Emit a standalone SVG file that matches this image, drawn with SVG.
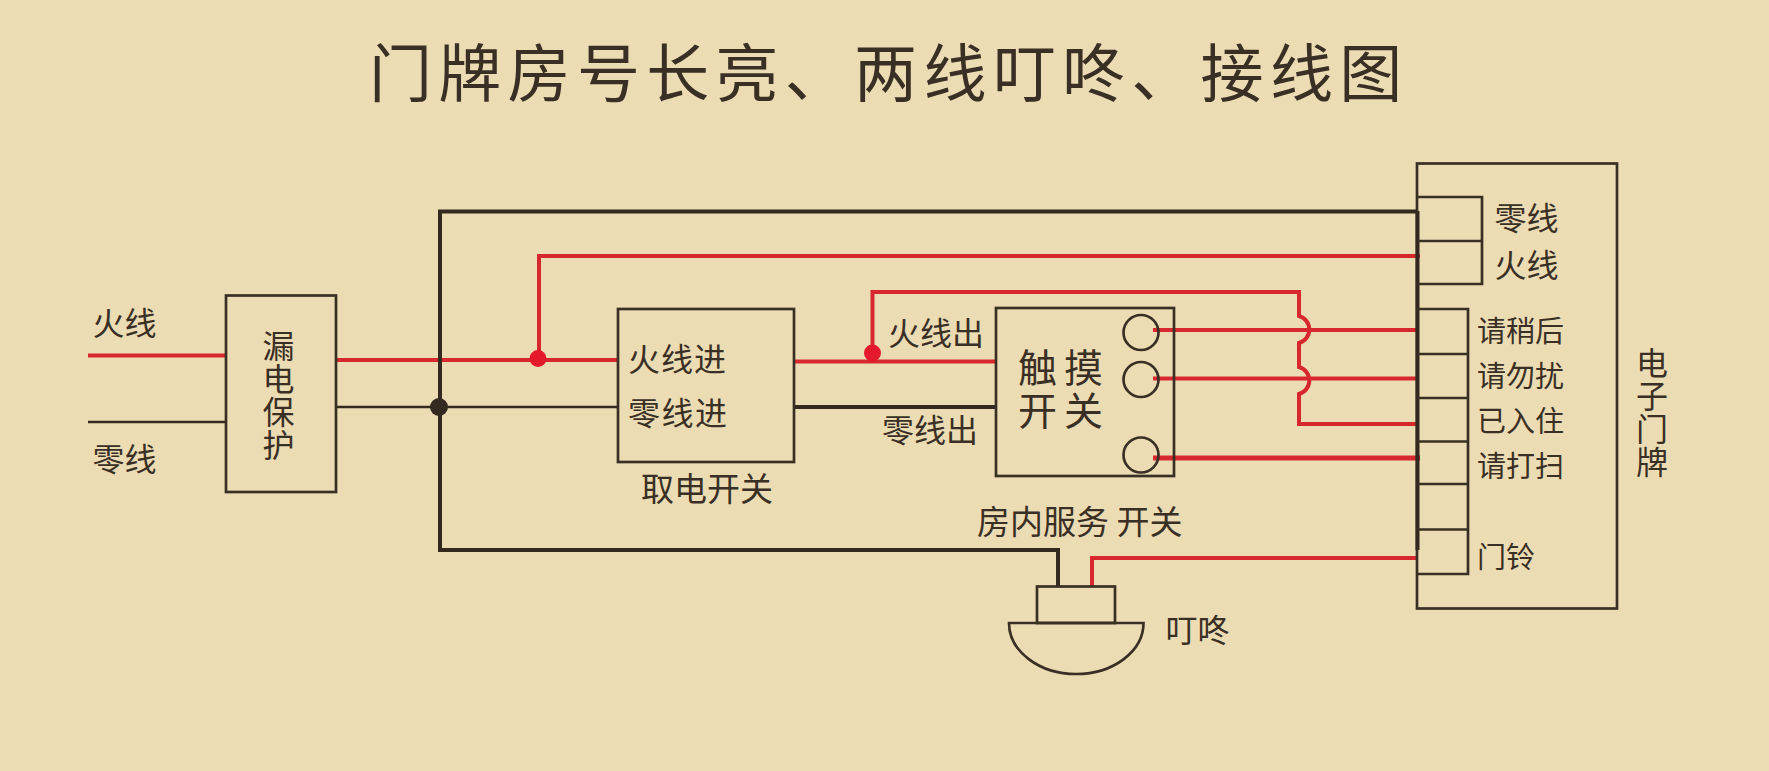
<svg xmlns="http://www.w3.org/2000/svg" width="1769" height="771" viewBox="0 0 1769 771">
<style>
text{font-family:"Noto Sans CJK SC","Noto Sans",sans-serif;fill:#3a2f24;font-size:32px}
.box{fill:none;stroke:#3a2f24;stroke-width:2.700}
.r{fill:none;stroke:#d8282f;stroke-width:4}
.k{fill:none;stroke:#33291f;stroke-width:4}
.t{fill:none;stroke:#33291f;stroke-width:2.500}
.m{text-anchor:middle}
.s{font-size:29px}
.b{font-size:39px;letter-spacing:7px}
.v{writing-mode:vertical-rl;text-orientation:upright;letter-spacing:1px}
</style>
<rect width="1769" height="771" fill="#ecdcb4"/>
<g id="title"><text x="369" y="96" style="font-size:63px;letter-spacing:6.300px">门牌房号长亮、两线叮咚、接线图</text></g>
<g id="connectors">
<path class="r" d="M88 355.500H226"/>
<path class="t" d="M88 422H226"/>
<path class="r" d="M336 360H618"/>
<path class="t" d="M336 407H618"/>
<path class="k" d="M1417 211.500H440V550H1058V587"/>
<path class="r" d="M539 360V256H1420"/>
<path class="r" d="M794 361.500H996"/>
<path class="k" d="M794 407H996"/>
<path class="r" d="M872.500 353V292H1299V316A14 14 0 0 1 1299 343V367A14 14 0 0 1 1299 394V424H1417"/>
<path class="r" d="M1153 330H1417M1153 378.500H1417"/>
<path class="r" style="stroke-width:5" d="M1153 458H1420"/>
<path class="r" d="M1092 587V558H1417"/>
<circle cx="439" cy="407" r="9" fill="#33291f"/>
<circle cx="538" cy="358.500" r="8.500" fill="#e4192b"/>
<circle cx="872.500" cy="353" r="8.500" fill="#e4192b"/>
</g>
<g id="live-in"><text x="92.500" y="335">火线</text></g>
<g id="neutral-in"><text x="92.500" y="471">零线</text></g>
<g id="leak-protect">
<rect class="box" x="226" y="295.500" width="110" height="196.500"/>
<text class="v" x="278.500" y="330">漏电保护</text>
</g>
<g id="power-switch">
<rect class="box" x="618" y="309" width="176" height="153"/>
<text x="628" y="371" style="letter-spacing:1px">火线进</text>
<text x="628" y="425" style="letter-spacing:1.500px">零线进</text>
<text class="m" x="707" y="501" style="font-size:33px">取电开关</text>
</g>
<text x="888" y="345">火线出</text>
<text x="882" y="442">零线出</text>
<g id="touch-switch">
<rect class="box" x="996" y="308" width="178" height="168"/>
<text class="b" x="1018" y="382"><tspan x="1018">触摸</tspan><tspan x="1018" dy="43">开关</tspan></text>
<circle class="box" cx="1141" cy="332.500" r="17.500"/>
<circle class="box" cx="1141" cy="379.500" r="17.500"/>
<circle class="box" cx="1141" cy="455" r="17.500"/>
</g>
<g id="service-label"><text x="977" y="534" style="font-size:33px">房内服务 开关</text></g>
<g id="chime">
<rect class="box" x="1037" y="586.500" width="78" height="36.500"/>
<path class="box" d="M1009 623H1143.500A67.250 51 0 0 1 1009 623Z"/>
<text x="1165.500" y="642">叮咚</text>
</g>
<g id="door-panel">
<rect class="box" x="1417" y="163.500" width="200" height="445"/>
<path class="k" d="M1417.500 211V550"/>
<path class="box" d="M1417 197H1482V284H1417M1417 241H1482"/>
<path class="box" d="M1417 309H1468V574H1417M1417 354H1468M1417 398H1468M1417 441.500H1468M1417 484H1468M1417 529.500H1468"/>
<text x="1494.500" y="230">零线</text>
<text x="1494.500" y="277">火线</text>
<text class="s" x="1477" y="342">请稍后</text>
<text class="s" x="1477" y="387">请勿扰</text>
<text class="s" x="1477" y="432">已入住</text>
<text class="s" x="1477" y="477">请打扫</text>
<text class="s" x="1477" y="568">门铃</text>
<text class="v" x="1652" y="347">电子门牌</text>
</g>
</svg>
